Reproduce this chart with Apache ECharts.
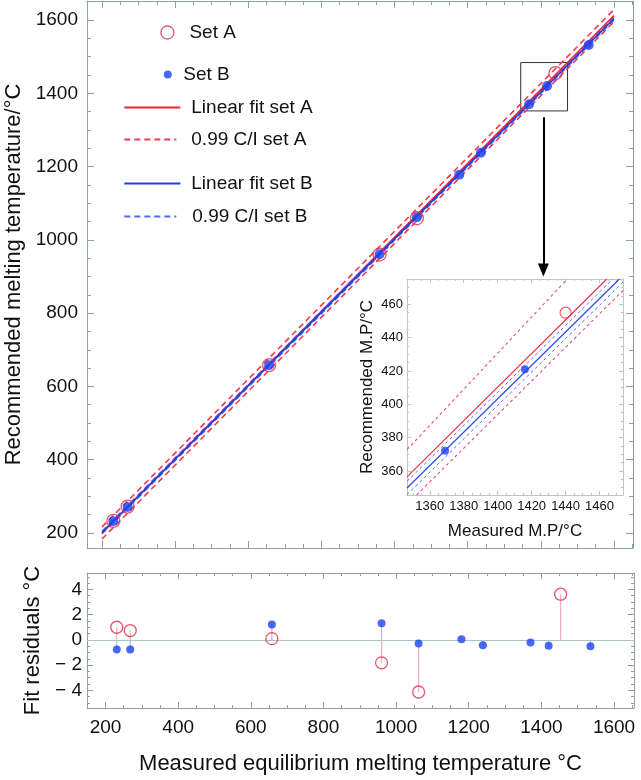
<!DOCTYPE html>
<html lang="en">
<head>
  <meta charset="UTF-8">
  <title>Melting point calibration</title>
  <style>
    body{
      margin: 0;
    }
    .chart{
      width: 641px;
      height: 780px;
      background: white;
    }
  </style>
</head>
<body>
<div class="chart"></div>
<script src="https://cdn.jsdelivr.net/npm/echarts@6/dist/echarts.min.js"></script>
<script>
  // main panel, [measured, recommended] in °C
  const setA = [[231,233],[270,272],[657,658],[959,960],[1061,1059],[1440,1455]];
  const setB = [[231,232],[270,271],[657,658],[959,961],[1061,1062],[1177,1178],[1236,1238],[1368,1370],[1417,1420],[1531,1532]];

  // fitted lines, read at both ends of the drawn range
  const fitA  = [[200,200],[1600,1612]];
  const ciAHi = [[200,216.5],[1600,1628.5]];
  const ciALo = [[200,183.5],[1600,1595.5]];
  const fitB  = [[200,201],[1600,1604]];
  const ciBHi = [[200,205],[1600,1608]];
  const ciBLo = [[200,197],[1600,1600]];

  // inset (zoom on 1350..1470), lines read where they cross the inset frame
  const insetA = [[1440,1455]];
  const insetB = [[1369,1372.2],[1416,1421]];
  const fitAIn  = [[1346.6,1356.5],[1464.3,1475.2]];
  const ciAHiIn = [[1346.6,1372.8],[1441.0,1475.2]];
  const ciALoIn = [[1352.2,1345.6],[1473.8,1468.3]];
  const fitBIn  = [[1346.6,1349.8],[1471.7,1475.2]];
  const ciBHiIn = [[1346.6,1353.8],[1467.8,1475.2]];
  const ciBLoIn = [[1346.6,1345.8],[1473.8,1473.3]];

  // zoom box on the main panel and the arrow down to the inset
  const boxCorners = [[1345,1484],[1473,1352]];
  const arrowEnds = [[1407,1335],[1407,918]];

  // residuals, [measured, residual]
  const resA = [[231,1.0],[268,0.74],[658,0.1],[960,-1.82],[1062,-4.13],[1453,3.62]];
  const resB = [[231,-0.76],[268,-0.76],[658,1.21],[960,1.32],[1062,-0.29],[1180,0.05],[1239,-0.42],[1370,-0.21],[1420,-0.47],[1535,-0.5]];

  // tick labels
  const tempTicks = [200,400,600,800,1000,1200,1400,1600];
  const resTicks = [-4,-2,0,2,4];
  const insetTicks = [1360,1380,1400,1420,1440,1460];

  const FONT = '"Liberation Sans", Arial, Helvetica, sans-serif';
  const RED = '#f2242c', RED_DASH = '#f23a4c', BLUE = '#1c3cf0', BLUE_DASH = '#4a6cf4';
  const CIRCLE = '#d8304a', DOT = '#1b44f2';

  function steps(a, b, s){
    const out = [];
    for (let v = a; v <= b + 1e-9; v += s) out.push(+v.toFixed(3));
    return out;
  }

  const xAxes = [], yAxes = [];
  // one frame side = a major-tick axis plus a minor-tick axis on top of each other
  function frame(list, grid, sides, range, major, minor, look, label, name){
    const first = list.length;
    sides.forEach((pos, k) => {
      [major, minor].forEach((ticks, j) => {
        const main = k === 0 && j === 0;
        const ax = {
          type: 'value', gridIndex: grid, position: pos,
          min: range[0], max: range[1],
          axisLine: {show: j === 0, onZero: false, lineStyle: {color: look.color, width: 1}},
          axisTick: {show: true, inside: true, length: j === 0 ? look.major : look.minor,
                     customValues: ticks, lineStyle: {color: look.color, width: 1}},
          axisLabel: Object.assign({show: main && !!label, customValues: major,
                     color: '#111', fontFamily: FONT, formatter: v => String(v)}, label || {}),
          splitLine: {show: false},
          axisPointer: {show: false}
        };
        if (main && name) {
          Object.assign(ax, {name: name.text, nameLocation: 'middle', nameGap: name.gap,
            nameTextStyle: {fontSize: name.size, fontFamily: FONT, color: '#111'}});
        }
        list.push(ax);
      });
    });
    return first;
  }

  const frameMain = {color: '#8fa0a0', major: 7, minor: 4};
  const frameRes = {color: '#8fa0a0', major: 6, minor: 3};
  const frameIn = {color: '#bcc6c6', major: 4, minor: 2};

  const mx = frame(xAxes, 0, ['bottom','top'], [159,1652], tempTicks, steps(200,1650,50), frameMain, null, null);
  const my = frame(yAxes, 0, ['left','right'], [159,1652], tempTicks, steps(200,1650,50), frameMain,
    {fontSize: 19, margin: 9},
    {text: 'Recommended melting temperature/°C', gap: 58, size: 22});

  const rx = frame(xAxes, 1, ['bottom','top'], [149,1655], tempTicks, steps(150,1650,50), frameRes,
    {fontSize: 19, margin: 10},
    {text: 'Measured equilibrium melting temperature °C', gap: 45, size: 22});
  const ry = frame(yAxes, 1, ['left','right'], [-5.4,5.3], resTicks, steps(-5,5,0.5), frameRes,
    {fontSize: 19, margin: 5, formatter: v => v < 0 ? '\u2212 ' + (-v) : String(v)},
    {text: 'Fit residuals °C', gap: 37, size: 22});

  const ix = frame(xAxes, 2, ['bottom','top'], [1346.6,1473.8], insetTicks, steps(1350,1470,5), frameIn,
    {fontSize: 13, margin: 5},
    {text: 'Measured M.P/°C', gap: 28, size: 17});
  const iy = frame(yAxes, 2, ['left','right'], [1345.6,1475.2], insetTicks, steps(1350,1475,5), frameIn,
    {fontSize: 13, margin: 4, formatter: v => String(v - 1000)},
    {text: 'Recommended M.P/°C', gap: 31, size: 17});

  function line(name, data, color, type, width, xi, yi, z){
    return {
      name: name, type: 'line', data: data, xAxisIndex: xi, yAxisIndex: yi,
      symbol: 'none', silent: true, z: z || 2,
      lineStyle: {color: color, width: width, type: type},
      itemStyle: {color: color}
    };
  }

  function stems(data, color){
    return {
      type: 'custom', xAxisIndex: rx, yAxisIndex: ry, data: data, silent: true, z: 1,
      encode: {x: 0, y: 1},
      renderItem(params, api){
        const p0 = api.coord([api.value(0), 0]);
        const p1 = api.coord([api.value(0), api.value(1)]);
        return {type: 'line', shape: {x1: p0[0], y1: p0[1], x2: p1[0], y2: p1[1]},
                style: {stroke: color, lineWidth: 1.2}};
      }
    };
  }

  const legendText = {fontSize: 19, fontFamily: FONT, color: '#111'};
  function legendAt(name, left, top, w, h, extra){
    return Object.assign({orient: 'vertical', padding: 0, selectedMode: false, textStyle: legendText,
      data: [name], left: left, top: top, itemWidth: w, itemHeight: h}, extra || {});
  }
  function lineLegend(name, top, w, pad){
    return legendAt(name, 123.3, top, w, 14, {
      itemStyle: {opacity: 0},
      textStyle: Object.assign({}, legendText, {padding: [0, 0, 0, pad]})
    });
  }

  const container = document.querySelector('.chart');
  const instance = echarts.init(container);
  const option = {
    animation: false,
    grid: [
      {left: 87, top: 1, width: 546, height: 547, outerBoundsMode: 'none'},
      {left: 87, top: 573, width: 547, height: 135, outerBoundsMode: 'none'},
      {left: 407, top: 279, width: 216, height: 216, outerBoundsMode: 'none',
       show: true, backgroundColor: '#fff', borderWidth: 0}
    ],
    xAxis: xAxes,
    yAxis: yAxes,
    legend: [
      legendAt('Set A', 160.3, 23, 34, 13, {itemStyle: {color: '#fff', borderColor: CIRCLE, borderWidth: 1.3}}),
      legendAt('Set B', 163.8, 65, 21, 8),
      lineLegend('Linear fit set A', 98, 56, 6),
      lineLegend('0.99 C/I set A', 130, 52, 10),
      lineLegend('Linear fit set B', 174, 56, 6),
      lineLegend('0.99 C/I set B', 207, 52, 11)
    ],
    series: [
      // main panel lines
      line('0.99 C/I set A', ciAHi, RED_DASH, [6,4], 1.6, mx, my),
      line('0.99 C/I set A', ciALo, RED_DASH, [6,4], 1.6, mx, my),
      line('0.99 C/I set B', ciBHi, BLUE_DASH, [6,4], 1.4, mx, my),
      line('0.99 C/I set B', ciBLo, BLUE_DASH, [6,4], 1.4, mx, my),
      line('Linear fit set A', fitA, RED, 'solid', 1.6, mx, my),
      line('Linear fit set B', fitB, BLUE, 'solid', 1.6, mx, my),
      {
        name: 'Set A', type: 'scatter', data: setA, xAxisIndex: mx, yAxisIndex: my,
        symbol: 'circle', symbolSize: 13, silent: true, z: 4,
        itemStyle: {color: 'rgba(255,255,255,0)', borderColor: CIRCLE, borderWidth: 1.3}
      },
      {
        name: 'Set B', type: 'scatter', data: setB, xAxisIndex: mx, yAxisIndex: my,
        symbol: 'circle', symbolSize: 10, silent: true, z: 3,
        itemStyle: {color: DOT},
        markArea: {
          silent: true,
          itemStyle: {color: 'rgba(0,0,0,0)', borderColor: '#333', borderWidth: 1},
          label: {show: false},
          data: [[{coord: boxCorners[0]}, {coord: boxCorners[1]}]]
        },
        markLine: {
          silent: true, symbol: ['none', 'triangle'], symbolSize: [11, 13],
          label: {show: false},
          lineStyle: {color: '#000', width: 2, type: 'solid'},
          data: [[{coord: arrowEnds[0]}, {coord: arrowEnds[1]}]]
        }
      },

      // inset
      line('inset ci A hi', ciAHiIn, '#ec4c74', [3,3], 1.1, ix, iy, 5),
      line('inset ci A lo', ciALoIn, '#ec4c74', [3,3], 1.1, ix, iy, 5),
      line('inset ci B hi', ciBHiIn, '#4c6cf2', [3,3], 1, ix, iy, 5),
      line('inset ci B lo', ciBLoIn, '#4c6cf2', [3,3], 1, ix, iy, 5),
      line('inset fit A', fitAIn, '#f0304a', 'solid', 1.2, ix, iy, 5),
      line('inset fit B', fitBIn, '#2a4cf0', 'solid', 1.2, ix, iy, 5),
      {
        type: 'scatter', data: insetA, xAxisIndex: ix, yAxisIndex: iy, silent: true, z: 7,
        symbol: 'circle', symbolSize: 11,
        itemStyle: {color: 'rgba(255,255,255,0)', borderColor: '#e8303a', borderWidth: 1.2}
      },
      {
        type: 'scatter', data: insetB, xAxisIndex: ix, yAxisIndex: iy, silent: true, z: 6,
        symbol: 'circle', symbolSize: 8, itemStyle: {color: DOT}
      },

      // residuals
      Object.assign(stems(resA, '#efaabb'), {
        markLine: {
          silent: true, symbol: 'none', z: 1, label: {show: false},
          lineStyle: {color: '#a9c4c2', width: 1, type: 'solid'},
          data: [{yAxis: 0}]
        }
      }),
      stems(resB, '#a9b9f2'),
      {
        type: 'scatter', data: resA, xAxisIndex: rx, yAxisIndex: ry, silent: true, z: 4,
        symbol: 'circle', symbolSize: 12,
        itemStyle: {color: 'rgba(255,255,255,0)', borderColor: CIRCLE, borderWidth: 1.3}
      },
      {
        type: 'scatter', data: resB, xAxisIndex: rx, yAxisIndex: ry, silent: true, z: 3,
        symbol: 'circle', symbolSize: 8, itemStyle: {color: DOT}
      }
    ]
  };
  instance.setOption(option);
</script>
</body>
</html>
